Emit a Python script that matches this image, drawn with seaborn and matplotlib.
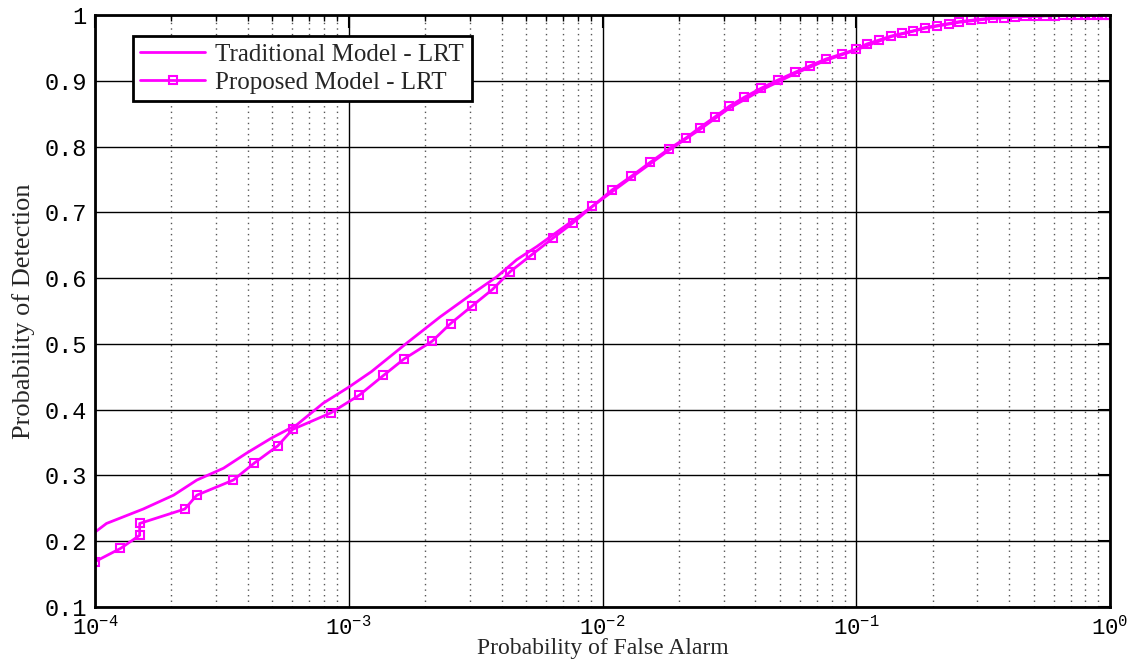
import matplotlib
matplotlib.use("Agg")
import matplotlib.pyplot as plt
import matplotlib.ticker as mticker
import pandas as pd
import seaborn as sns

# Proposed model (markers)
proposed_pfa = [
    1.0e-4, 1.26e-4, 1.50e-4, 1.50e-4, 2.26e-4, 2.52e-4, 3.51e-4, 4.25e-4, 5.25e-4, 6.01e-4,
    8.49e-4, 1.10e-3, 1.37e-3, 1.65e-3, 2.13e-3, 2.52e-3, 3.07e-3, 3.69e-3, 4.33e-3, 5.24e-3,
    6.39e-3, 7.65e-3, 9.12e-3, 1.09e-2, 1.30e-2, 1.54e-2, 1.82e-2, 2.13e-2, 2.42e-2, 2.77e-2,
    3.15e-2, 3.62e-2, 4.23e-2, 4.90e-2, 5.74e-2, 6.58e-2, 7.58e-2, 8.81e-2, 9.98e-2, 0.110,
    0.123, 0.137, 0.152, 0.168, 0.187, 0.208, 0.231, 0.255, 0.283, 0.313,
    0.346, 0.382, 0.422, 0.463, 0.506, 0.554, 0.607, 0.653, 0.702, 0.748,
    0.797, 0.841, 0.888, 0.929, 0.964, 1.0,
]
proposed_pd = [
    0.169, 0.189, 0.209, 0.227, 0.249, 0.270, 0.293, 0.319, 0.345, 0.370,
    0.395, 0.422, 0.452, 0.477, 0.504, 0.531, 0.558, 0.583, 0.610, 0.635,
    0.661, 0.684, 0.709, 0.734, 0.755, 0.776, 0.796, 0.813, 0.829, 0.845,
    0.861, 0.875, 0.889, 0.901, 0.913, 0.923, 0.933, 0.941, 0.948, 0.956,
    0.962, 0.968, 0.972, 0.976, 0.981, 0.984, 0.987, 0.990, 0.992, 0.994,
    0.995, 0.996, 0.997, 0.998, 0.998, 0.999, 0.999, 0.9995, 1.0, 1.0,
    1.0, 1.0, 1.0, 1.0, 1.0, 1.0,
]

# Traditional model (plain line)
traditional_pfa = [
    1.01e-4, 1.11e-4, 1.55e-4, 2.04e-4, 2.52e-4, 3.21e-4, 3.96e-4, 4.97e-4, 6.24e-4, 7.94e-4,
    9.98e-4, 1.23e-3, 1.69e-3, 2.29e-3, 3.01e-3, 3.83e-3, 4.59e-3, 5.51e-3, 7.67e-3, 9.48e-3,
    1.30e-2, 1.82e-2, 2.42e-2, 3.15e-2, 4.23e-2, 5.74e-2, 7.58e-2, 0.0998, 0.137, 0.187,
    0.255, 0.346, 0.463, 0.607, 0.797, 1.0,
]
traditional_pd = [
    0.215, 0.227, 0.249, 0.270, 0.293, 0.311, 0.334, 0.357, 0.377, 0.410,
    0.434, 0.458, 0.501, 0.541, 0.574, 0.602, 0.628, 0.648, 0.688, 0.714,
    0.753, 0.794, 0.826, 0.858, 0.886, 0.911, 0.931, 0.947, 0.967, 0.980,
    0.989, 0.995, 0.998, 0.999, 1.0, 1.0,
]

y_ticks = [0.1, 0.2, 0.3, 0.4, 0.5, 0.6, 0.7, 0.8, 0.9, 1.0]
y_tick_labels = ["0.1", "0.2", "0.3", "0.4", "0.5", "0.6", "0.7", "0.8", "0.9", "1"]

MAGENTA = "#ff00ff"

sns.set_theme(style="white")
plt.rcParams["font.family"] = ["Liberation Serif", "DejaVu Serif"]

trad_df = pd.DataFrame({"pfa": traditional_pfa, "pd": traditional_pd})
prop_df = pd.DataFrame({"pfa": proposed_pfa, "pd": proposed_pd})

fig = plt.figure(figsize=(11.32, 6.59), dpi=100)
ax = fig.add_axes([0.0839, 0.0789, 0.8967, 0.8983])

sns.lineplot(data=trad_df, x="pfa", y="pd", ax=ax, color=MAGENTA, linewidth=2,
             sort=False, estimator=None, label="Traditional Model - LRT")
sns.lineplot(data=prop_df, x="pfa", y="pd", ax=ax, color=MAGENTA, linewidth=2,
             marker="s", markersize=5.5, markerfacecolor="none", markeredgecolor=MAGENTA,
             markeredgewidth=1.5, sort=False, estimator=None, label="Proposed Model - LRT")

ax.set_xscale("log")
ax.set_xlim(1e-4, 1)
ax.set_ylim(0.1, 1.0)
ax.set_yticks(y_ticks)
ax.set_yticklabels(y_tick_labels)
ax.xaxis.set_minor_locator(mticker.LogLocator(base=10, subs=range(2, 10), numticks=20))
ax.xaxis.set_minor_formatter(mticker.NullFormatter())

ax.grid(which="major", color="black", linestyle="-", linewidth=1)
ax.grid(which="minor", axis="x", color="#555555", linestyle=(0, (1, 3)), linewidth=1)
ax.set_axisbelow(True)

for s in ax.spines.values():
    s.set_color("black")
    s.set_linewidth(2)

ax.tick_params(which="major", direction="in", length=9, width=1.5, top=True, right=True,
               colors="black", labelsize=17, pad=6)
ax.tick_params(axis="x", which="major", labelsize=16, pad=6)
ax.tick_params(which="minor", direction="in", length=4, width=1, top=True, right=True,
               colors="black")
for lbl in ax.get_xticklabels() + ax.get_yticklabels():
    lbl.set_fontfamily("Liberation Mono")

ax.set_xlabel("Probability of False Alarm", fontsize=17, labelpad=-1)
ax.set_ylabel("Probability of Detection", fontsize=19, labelpad=7)

leg = ax.legend(loc="upper left", bbox_to_anchor=(0.0374, 0.9645), borderaxespad=0,
                fontsize=18, frameon=True, fancybox=False, edgecolor="black",
                framealpha=1, handlelength=2.6, handletextpad=0.4,
                borderpad=0.3, labelspacing=0.2)
leg.get_frame().set_linewidth(2)

fig.savefig("out.png", dpi=100)
